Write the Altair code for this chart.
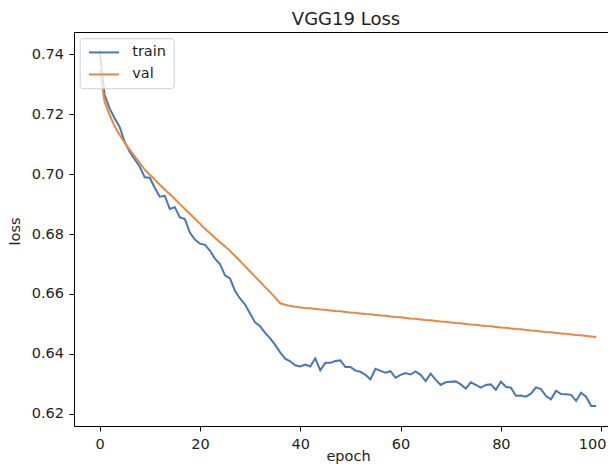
import altair as alt
import pandas as pd

epochs = list(range(100))

train_loss = [
    0.7415, 0.7265, 0.7220, 0.7187, 0.7158, 0.7108, 0.7075, 0.7050, 0.7025, 0.6990,
    0.6988, 0.6955, 0.6925, 0.6928, 0.6884, 0.6890, 0.6856, 0.6850, 0.6805, 0.6782,
    0.6768, 0.6764, 0.6745, 0.6718, 0.6700, 0.6662, 0.6652, 0.6610, 0.6585, 0.6565,
    0.6535, 0.6505, 0.6492, 0.6470, 0.6452, 0.6430, 0.6405, 0.6384, 0.6375, 0.6362,
    0.6358, 0.6364, 0.6358, 0.6385, 0.6345, 0.6370, 0.6370, 0.6376, 0.6378, 0.6356,
    0.6356, 0.6344, 0.6340, 0.6330, 0.6315, 0.6350, 0.6343, 0.6337, 0.6342, 0.6320,
    0.6330, 0.6336, 0.6331, 0.6341, 0.6330, 0.6309, 0.6334, 0.6314, 0.6296, 0.6305,
    0.6307, 0.6308, 0.6298, 0.6284, 0.6305, 0.6296, 0.6287, 0.6296, 0.6298, 0.6280,
    0.6307, 0.6290, 0.6287, 0.6260, 0.6261, 0.6257, 0.6267, 0.6288, 0.6282, 0.6259,
    0.6248, 0.6277, 0.6266, 0.6265, 0.6263, 0.6243, 0.6270, 0.6257, 0.6226, 0.6226,
]

val_loss = [
    0.7350, 0.7242, 0.7198, 0.7160, 0.7131, 0.7105, 0.7082, 0.7060, 0.7038, 0.7015,
    0.6998, 0.6982, 0.6965, 0.6949, 0.6933, 0.6917, 0.6900, 0.6884, 0.6868, 0.6851,
    0.6835, 0.6818, 0.6803, 0.6788, 0.6773, 0.6759, 0.6744, 0.6727, 0.6710, 0.6692,
    0.6675, 0.6658, 0.6641, 0.6623, 0.6606, 0.6588, 0.6569, 0.6564, 0.6560, 0.6557,
    0.6555, 0.6553, 0.6552, 0.6550, 0.6548, 0.6547, 0.6545, 0.6543, 0.6542, 0.6540,
    0.6538, 0.6537, 0.6535, 0.6533, 0.6532, 0.6530, 0.6528, 0.6527, 0.6525, 0.6523,
    0.6522, 0.6520, 0.6518, 0.6517, 0.6515, 0.6513, 0.6512, 0.6510, 0.6508, 0.6507,
    0.6505, 0.6503, 0.6502, 0.6500, 0.6498, 0.6497, 0.6495, 0.6493, 0.6492, 0.6490,
    0.6488, 0.6487, 0.6485, 0.6483, 0.6482, 0.6480, 0.6478, 0.6477, 0.6475, 0.6473,
    0.6472, 0.6470, 0.6468, 0.6467, 0.6465, 0.6463, 0.6462, 0.6460, 0.6458, 0.6456,
]

series_names = ["train", "val"]
series_colors = ["#4a76b4", "#e6883f"]
x_ticks = [0, 20, 40, 60, 80, 100]
y_ticks = [0.62, 0.64, 0.66, 0.68, 0.70, 0.72, 0.74]

df = pd.DataFrame({
    "epoch": epochs * 2,
    "loss": train_loss + val_loss,
    "series": ["train"] * len(epochs) + ["val"] * len(epochs),
    "order": [0] * len(epochs) + [1] * len(epochs),
})

FONT = "DejaVu Sans"
TXT = "#1e1e1e"

x_scale = alt.Scale(domain=[-5.1, 101.36], nice=False, zero=False)
y_scale = alt.Scale(domain=[0.6159, 0.7475], nice=False, zero=False)

lines = alt.Chart(df).mark_line(strokeWidth=2, clip=True).encode(
    x=alt.X("epoch:Q", scale=x_scale,
            axis=alt.Axis(values=x_ticks, format="d", title="epoch", grid=False,
                          tickSize=5, labelPadding=17, labelBaseline="alphabetic",
                          labelOffset={"condition": {"test": "datum.value >= 100", "value": -9},
                                       "value": 0},
                          titleBaseline="alphabetic", titleY=34, titleX=274)),
    y=alt.Y("loss:Q", scale=y_scale,
            axis=alt.Axis(values=y_ticks, format=".2f", title="loss", grid=False,
                          tickSize=5, labelPadding=5.5,
                          titleX=-58.5, titleY=199, titleBaseline="middle", titleAngle=270)),
    color=alt.Color("series:N",
                    scale=alt.Scale(domain=series_names, range=series_colors),
                    legend=alt.Legend(title=None, orient="none", legendX=5.7, legendY=6.2,
                                      symbolType="M-1,0H5", symbolSize=100,
                                      symbolStrokeWidth=2, labelOffset=31,
                                      labelFontSize=14.5, labelFont=FONT, labelColor=TXT,
                                      rowPadding=7, padding=7, cornerRadius=3,
                                      strokeColor="#d0d0d0",
                                      fillColor="rgba(255,255,255,0.8)")),
    detail="series:N",
    order="order:Q",
)

top_spine = alt.Chart(df).mark_line(opacity=0).encode(
    x=alt.X("epoch:Q", scale=x_scale,
            axis=alt.Axis(orient="top", labels=False, ticks=False, grid=False,
                          title="", domain=True)),
    y=alt.Y("loss:Q", scale=y_scale),
)

chart = alt.layer(lines, top_spine).resolve_axis(x="independent").properties(
    width=534,
    height=394,
    autosize=alt.AutoSizeParams(type="none"),
    padding={"left": 66, "top": 24, "right": 0, "bottom": 39},
    title=alt.TitleParams("VGG19 Loss", fontSize=18, font=FONT, fontWeight="normal",
                          anchor="middle", offset=3, dx=5, color=TXT),
).configure_view(stroke=None).configure_axis(
    domainColor="#000000", domainWidth=1, tickColor="#000000", tickWidth=1,
    labelFont=FONT, labelFontSize=14.5, labelColor=TXT,
    titleFont=FONT, titleFontSize=14.5, titleFontWeight="normal", titleColor=TXT,
)

chart.save("out.html", embed_options={"renderer": "svg", "actions": False})
